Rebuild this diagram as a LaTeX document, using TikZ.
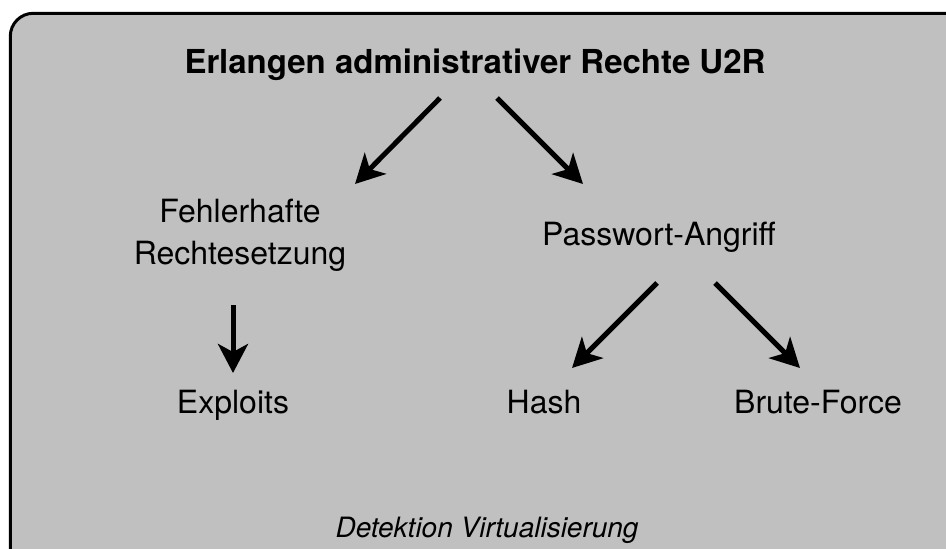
\documentclass[tikz,border=0pt]{standalone}
\usepackage{fontspec}
\setmainfont{TeX Gyre Heros}
\usetikzlibrary{arrows.meta,calc}

\definecolor{panelgray}{RGB}{192,192,192}

\tikzset{
  panel/.style={draw=black, line width=3pt, fill=panelgray, rounded corners=23pt},
  label/.style={inner sep=0pt, anchor=base, font=\fontsize{32}{42}\selectfont},
  headline/.style={label, font=\fontsize{33}{42}\selectfont\bfseries},
  caption/.style={inner sep=0pt, anchor=base, font=\fontsize{28}{34}\selectfont\itshape},
  arr/.style={line width=5pt, -{Stealth[length=29pt, width=30pt, inset=8pt]}}
}

\begin{document}
\begin{tikzpicture}[x=1pt, y=-1pt]
  \useasboundingbox (0,0) rectangle (946,549);
  \clip (0,0) rectangle (946,549);

  % grey panel, running off the right and bottom edges
  \draw[panel] (10.3,13.3) rectangle (975,580);

  % labels
  \node[headline] (title) at (475,73) {Erlangen administrativer Rechte U2R};
  \node[label] (fehler1) at (240,222) {Fehlerhafte};
  \node[label] (fehler) at (240,264) {Rechtesetzung};
  \node[label] (pass) at (659,245) {Passwort-Angriff};
  \node[label] (exploits) at (233,413) {Exploits};
  \node[label] (hash) at (544,413) {Hash};
  \node[label] (brute) at (818,413) {Brute-Force};
  \node[caption] (detekt) at (487,537) {Detektion Virtualisierung};

  % arrows
  \draw[arr] ($(title.base)+(-35,25)$) -- ($(fehler1.base)+(115,-38)$);
  \draw[arr] ($(title.base)+(22,25)$) -- ($(pass.base)+(-76,-61)$);
  \draw[arr] ($(fehler.base)+(-7,41)$) -- ($(exploits.base)+(0,-40)$);
  \draw[arr] ($(pass.base)+(-2,38)$) -- ($(hash.base)+(28,-45)$);
  \draw[arr] ($(pass.base)+(56,38)$) -- ($(brute.base)+(-18,-45)$);
\end{tikzpicture}
\end{document}
